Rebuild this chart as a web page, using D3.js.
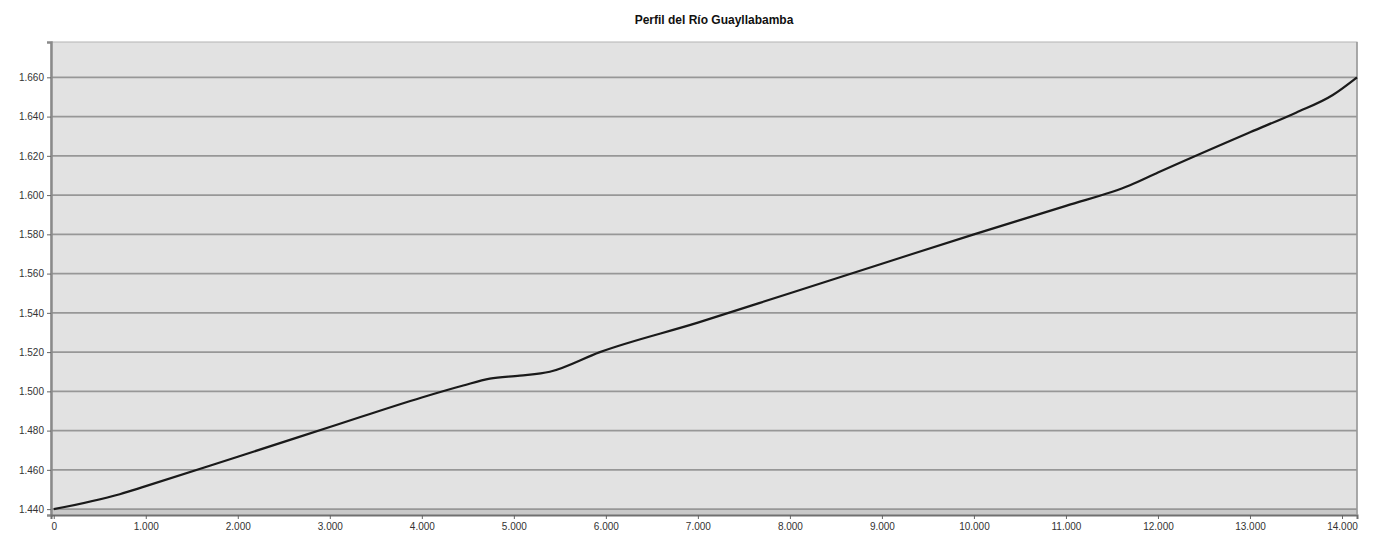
<!DOCTYPE html>
<html>
<head>
<meta charset="utf-8">
<script src="https://cdn.jsdelivr.net/npm/d3@7"></script>
<style>
  html, body { margin: 0; padding: 0; background: #fff; }
  svg { display: block; }
</style>
</head>
<body>
<svg id="chart" width="1380" height="536"></svg>
<script>
// River profile: distance along the channel (m) and elevation (m a.s.l.)
const distances  = [0, 717, 1000, 2000, 3000, 4000, 4450, 4739, 5065, 5391, 5935, 7000, 8000, 9000, 10000, 11000, 11696, 12000, 13000, 13500, 13900, 14163];
const elevations = [1440, 1447.6, 1451.7, 1466.7, 1481.8, 1496.9, 1503, 1506.5, 1508, 1510, 1520, 1535, 1550, 1565, 1580, 1594.5, 1605, 1611.5, 1632, 1642, 1651, 1660];
const yTicks = [1440, 1460, 1480, 1500, 1520, 1540, 1560, 1580, 1600, 1620, 1640, 1660];
const xTicks = [0, 1000, 2000, 3000, 4000, 5000, 6000, 7000, 8000, 9000, 10000, 11000, 12000, 13000, 14000];
const title = "Perfil del Río Guayllabamba";

const svg = d3.select("#chart");
const plotLeft = 51, plotRight = 1357, plotTop = 42, plotBottom = 515;

const x = d3.scaleLinear().domain([-30, 14163]).range([plotLeft, plotRight]);
const y = d3.scaleLinear().domain([1437, 1678]).range([plotBottom, plotTop]);

const fmt = d3.formatLocale({ decimal: ",", thousands: ".", grouping: [3], currency: ["", ""] }).format(",d");

// plot background
svg.append("rect")
  .attr("x", plotLeft).attr("y", plotTop)
  .attr("width", plotRight - plotLeft).attr("height", plotBottom - plotTop)
  .attr("fill", "#e2e2e2")
  .attr("stroke", "#b4b4b4").attr("stroke-width", 1);

// floor band along the bottom
svg.append("rect")
  .attr("x", plotLeft).attr("y", plotBottom - 5)
  .attr("width", plotRight - plotLeft).attr("height", 4)
  .attr("fill", "#c9c9c9");

// horizontal grid
svg.append("g").selectAll("line").data(yTicks).join("line")
  .attr("x1", plotLeft).attr("x2", plotRight)
  .attr("y1", d => y(d)).attr("y2", d => y(d))
  .attr("stroke", "#979797").attr("stroke-width", 1.6);

// y axis
const yAxis = svg.append("g")
  .attr("transform", `translate(${plotLeft},0)`)
  .call(d3.axisLeft(y).tickValues(yTicks).tickFormat(fmt).tickSize(4).tickPadding(3));
yAxis.select(".domain").attr("stroke", "#8a8a8a").attr("stroke-width", 2.5);
yAxis.selectAll(".tick line").attr("stroke", "#666");
yAxis.selectAll("text").attr("fill", "#333").style("font", "10px 'Liberation Sans', Arial, sans-serif");

// x axis
const xAxis = svg.append("g")
  .attr("transform", `translate(0,${plotBottom})`)
  .call(d3.axisBottom(x).tickValues(xTicks).tickFormat(fmt).tickSize(4).tickPadding(4));
xAxis.select(".domain").attr("stroke", "#707070").attr("stroke-width", 2);
xAxis.selectAll(".tick line").attr("stroke", "#666");
xAxis.selectAll("text").attr("fill", "#333").style("font", "10px 'Liberation Sans', Arial, sans-serif");

// right border
svg.append("line")
  .attr("x1", plotRight).attr("x2", plotRight).attr("y1", plotTop).attr("y2", plotBottom)
  .attr("stroke", "#999").attr("stroke-width", 1.5);

// profile line
const line = d3.line()
  .x((d, i) => x(distances[i]))
  .y(d => y(d))
  .curve(d3.curveMonotoneX);
svg.append("path")
  .datum(elevations)
  .attr("d", line)
  .attr("fill", "none")
  .attr("stroke", "#1a1a1a")
  .attr("stroke-width", 2.2);

// title
svg.append("text")
  .attr("x", 714).attr("y", 24)
  .attr("text-anchor", "middle")
  .style("font", "bold 12px 'Liberation Sans', Arial, sans-serif")
  .attr("fill", "#111")
  .text(title);
</script>
</body>
</html>
